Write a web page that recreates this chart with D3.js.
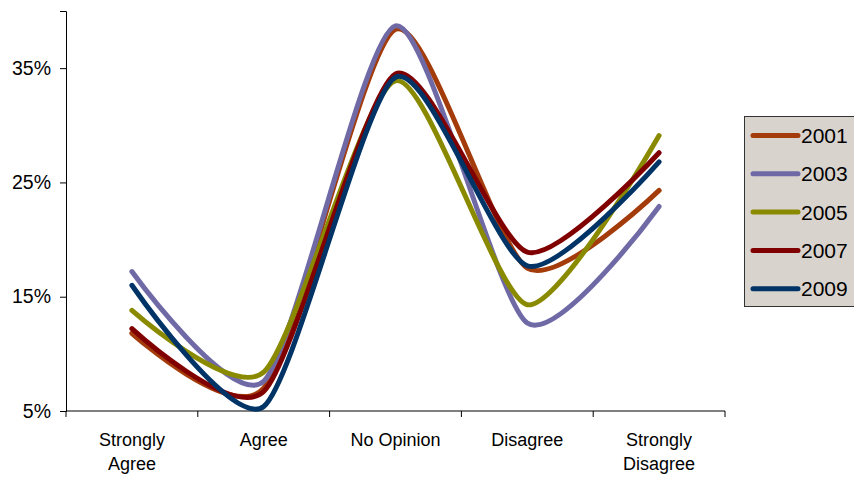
<!DOCTYPE html>
<html>
<head>
<meta charset="utf-8">
<script src="https://cdn.jsdelivr.net/npm/d3@7"></script>
<style>
  html, body { margin: 0; padding: 0; background: #fff; }
  svg { display: block; font-family: "Liberation Sans", Arial, sans-serif; }
</style>
</head>
<body>
<svg id="chart" width="854" height="479"></svg>
<script>
// Response categories along the x axis
const categories = ["Strongly Agree", "Agree", "No Opinion", "Disagree", "Strongly Disagree"];

// Share of responses (%) for each survey year
const years = ["2001", "2003", "2005", "2007", "2009"];
const values2001 = [11.8, 7.0, 38.4, 17.5, 24.3];
const values2003 = [17.2, 7.6, 38.7, 12.7, 22.9];
const values2005 = [13.8, 8.4, 33.9, 14.3, 29.1];
const values2007 = [12.2, 6.7, 34.5, 18.9, 27.6];
const values2009 = [16.0, 5.4, 34.2, 17.7, 26.8];
const seriesValues = [values2001, values2003, values2005, values2007, values2009];
const colors = ["#a33b0a", "#6f6aa6", "#8a8a00", "#800000", "#003366"];

// Y axis tick values (%)
const yTicks = [5, 15, 25, 35];

const svg = d3.select("#chart");

const x = d3.scaleBand().domain(categories).range([66, 725]);
const y = d3.scaleLinear().domain([5, 40]).range([411, 11]);

// Axes
const yAxis = d3.axisLeft(y)
  .tickValues(yTicks)
  .tickFormat(d => d + "%")
  .tickSize(6)
  .tickPadding(9);

const gy = svg.append("g").attr("transform", "translate(66,0)").call(yAxis);
gy.select(".domain").attr("stroke", "#000").attr("stroke-width", 1);
gy.selectAll(".tick line").attr("stroke", "#000");
gy.selectAll(".tick text")
  .attr("fill", "#000")
  .style("font-size", "19.5px")
  .style("font-family", "'Liberation Sans', Arial, sans-serif");

// X axis: line with ticks at category boundaries
const gx = svg.append("g").attr("transform", "translate(0,411)");
gx.append("line")
  .attr("x1", x.range()[0]).attr("x2", x.range()[1])
  .attr("stroke", "#000").attr("stroke-width", 1);
const boundaries = categories.map(c => x(c)).concat([x.range()[1]]);
gx.selectAll("line.tick")
  .data(boundaries)
  .join("line")
  .attr("class", "tick")
  .attr("x1", d => d).attr("x2", d => d)
  .attr("y1", 0).attr("y2", 6)
  .attr("stroke", "#000");

// Category labels, wrapped onto two lines where needed
const labelLines = {
  "Strongly Agree": ["Strongly", "Agree"],
  "Agree": ["Agree"],
  "No Opinion": ["No Opinion"],
  "Disagree": ["Disagree"],
  "Strongly Disagree": ["Strongly", "Disagree"]
};
categories.forEach(c => {
  const t = svg.append("text")
    .attr("x", x(c) + x.bandwidth() / 2)
    .attr("y", 446)
    .attr("text-anchor", "middle")
    .attr("fill", "#000")
    .style("font-size", "18px");
  labelLines[c].forEach((line, i) => {
    t.append("tspan")
      .attr("x", x(c) + x.bandwidth() / 2)
      .attr("dy", i === 0 ? 0 : 24)
      .text(line);
  });
});

// Smoothed series lines
const line = d3.line()
  .x((d, i) => x(categories[i]) + x.bandwidth() / 2)
  .y(d => y(d))
  .curve(d3.curveCardinal.tension(0.3));

svg.append("g")
  .selectAll("path")
  .data(seriesValues)
  .join("path")
  .attr("d", d => line(d))
  .attr("fill", "none")
  .attr("stroke", (d, i) => colors[i])
  .attr("stroke-width", 5)
  .attr("stroke-linejoin", "round")
  .attr("stroke-linecap", "round");

// Legend
const legend = svg.append("g");
legend.append("rect")
  .attr("x", 744.5).attr("y", 116.5)
  .attr("width", 120).attr("height", 190)
  .attr("fill", "#d9d3ce")
  .attr("stroke", "#333")
  .attr("stroke-width", 1);
years.forEach((yr, i) => {
  const cy = 135.5 + i * 38.3;
  legend.append("line")
    .attr("x1", 753).attr("x2", 798)
    .attr("y1", cy).attr("y2", cy)
    .attr("stroke", colors[i])
    .attr("stroke-width", 5)
    .attr("stroke-linecap", "round");
  legend.append("text")
    .attr("x", 801).attr("y", cy)
    .attr("dy", "0.36em")
    .attr("fill", "#000")
    .style("font-size", "21px")
    .text(yr);
});
</script>
</body>
</html>
